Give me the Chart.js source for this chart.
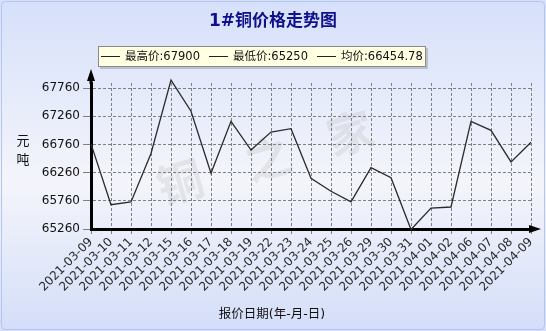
<!DOCTYPE html>
<html>
<head>
<meta charset="utf-8">
<script src="https://cdn.jsdelivr.net/npm/chart.js@4"></script>
<style>
  body { margin: 0; background: #fff; }
  #wrap { width: 546px; height: 331px; }
</style>
</head>
<body>
<div id="wrap"><canvas id="priceChart" width="546" height="331"></canvas></div>
<script>
// data
const dates = [
  "2021-03-09", "2021-03-10", "2021-03-11", "2021-03-12", "2021-03-15",
  "2021-03-16", "2021-03-17", "2021-03-18", "2021-03-19", "2021-03-22",
  "2021-03-23", "2021-03-24", "2021-03-25", "2021-03-26", "2021-03-29",
  "2021-03-30", "2021-03-31", "2021-04-01", "2021-04-02", "2021-04-06",
  "2021-04-07", "2021-04-08", "2021-04-09"
];
const prices = [
  66770, 65690, 65740, 66600, 67900,
  67350, 66250, 67170, 66660, 66980,
  67040, 66160, 65930, 65740, 66350,
  66170, 65250, 65630, 65650, 67170,
  67010, 66450, 66800
];
const yTicks = [65260, 65510, 65760, 66010, 66260, 66510, 66760, 67010, 67260, 67510, 67760];
const yMajorTicks = [65260, 65760, 66260, 66760, 67260, 67760];
const yMin = 65260;
const yMax = 67850;

const maxPrice = "67900";
const minPrice = "65250";
const avgPrice = "66454.78";

const chartTitle = "1#铜价格走势图";
const yTitle = ["元", "吨"];
const xTitle = "报价日期(年-月-日)";
const watermark = "铜之家";

const FONT = "'DejaVu Sans', 'Noto Sans CJK SC', sans-serif";

// background, title, legend box, axis titles and arrows
const decorPlugin = {
  id: "decor",
  beforeDraw(chart) {
    const ctx = chart.ctx;
    const w = chart.width, h = chart.height;
    ctx.save();
    const g = ctx.createLinearGradient(0, 0, 0, h);
    g.addColorStop(0, "#d6e0fb");
    g.addColorStop(0.55, "#f4f5fb");
    g.addColorStop(1, "#d4def9");
    ctx.fillStyle = g;
    ctx.fillRect(0, 0, w, h);
    ctx.strokeStyle = "#b4c6ef";
    ctx.lineWidth = 1;
    ctx.beginPath();
    ctx.roundRect(1.5, 1.5, w - 3, h - 3, 4);
    ctx.stroke();

    // watermark
    ctx.fillStyle = "rgba(185,185,185,0.28)";
    ctx.font = "bold 46px 'Noto Sans CJK SC', sans-serif";
    ctx.textAlign = "center";
    ctx.textBaseline = "middle";
    const marks = [[180, 182], [268, 158], [350, 133]];
    [...watermark].forEach((ch, i) => {
      ctx.save();
      ctx.translate(marks[i][0], marks[i][1]);
      ctx.rotate(-0.28);
      ctx.fillText(ch, 0, 0);
      ctx.restore();
    });
    ctx.restore();
  },
  afterDraw(chart) {
    const ctx = chart.ctx;
    const area = chart.chartArea;
    ctx.save();

    // title
    ctx.fillStyle = "#10108a";
    ctx.font = "bold 17px " + FONT;
    ctx.textAlign = "center";
    ctx.textBaseline = "middle";
    ctx.fillText(chartTitle, 273, 22);

    // legend box
    ctx.fillStyle = "rgba(120,120,120,0.35)";
    ctx.fillRect(100, 48, 328, 21);
    ctx.fillStyle = "#ffffe1";
    ctx.fillRect(98, 46, 328, 21);
    ctx.strokeStyle = "#8a8a8a";
    ctx.lineWidth = 1;
    ctx.strokeRect(98.5, 46.5, 327, 20);

    ctx.font = "11.5px " + FONT;
    ctx.textAlign = "left";
    ctx.fillStyle = "#111";
    ctx.strokeStyle = "#222";
    const items = [
      [101, "最高价:" + maxPrice],
      [209, "最低价:" + minPrice],
      [317, "均价:" + avgPrice]
    ];
    items.forEach(([x, txt]) => {
      ctx.beginPath();
      ctx.moveTo(x, 56.5);
      ctx.lineTo(x + 19, 56.5);
      ctx.stroke();
      ctx.fillText(txt, x + 24, 57);
    });

    // axis titles
    ctx.font = "13px " + FONT;
    ctx.textAlign = "center";
    ctx.fillText(yTitle[0], 23, 142);
    ctx.fillText(yTitle[1], 23, 161);
    ctx.font = "12.5px " + FONT;
    ctx.fillText(xTitle, 272, 315);

    // axis arrows
    const x0 = area.left, yb = area.bottom;
    ctx.strokeStyle = "#000";
    ctx.lineWidth = 3;
    ctx.beginPath();
    ctx.moveTo(x0, area.top + 1);
    ctx.lineTo(x0, 76);
    ctx.moveTo(area.right - 1, yb);
    ctx.lineTo(534, yb);
    ctx.stroke();
    ctx.fillStyle = "#000";
    ctx.beginPath();
    ctx.moveTo(x0, 69);
    ctx.lineTo(x0 - 4, 81);
    ctx.lineTo(x0 + 4, 81);
    ctx.closePath();
    ctx.fill();
    ctx.beginPath();
    ctx.moveTo(541, yb);
    ctx.lineTo(529, yb - 4);
    ctx.lineTo(529, yb + 4);
    ctx.closePath();
    ctx.fill();
    ctx.restore();
  }
};

const isMajor = (v) => yMajorTicks.includes(v);

new Chart(document.getElementById("priceChart").getContext("2d"), {
  type: "line",
  data: {
    labels: dates,
    datasets: [{
      data: prices,
      borderColor: "#2a2a2a",
      borderWidth: 1.3,
      pointRadius: 0,
      tension: 0,
      fill: false,
      clip: 6
    }]
  },
  options: {
    responsive: false,
    animation: false,
    events: [],
    layout: { padding: { left: 0, top: 83, right: 15, bottom: 0 } },
    plugins: {
      legend: { display: false },
      title: { display: false },
      tooltip: { enabled: false }
    },
    scales: {
      x: {
        offset: false,
        afterFit(scale) { scale.height = 102; },
        grid: {
          color: "#808080",
          lineWidth: 1,
          tickLength: 5,
          tickColor: "#808080"
        },
        border: { display: true, color: "#000", width: 3, dash: [3, 2] },
        ticks: {
          autoSkip: false,
          maxRotation: 45,
          minRotation: 45,
          padding: 1,
          color: "#2a2a2a",
          font: { family: FONT, size: 12 }
        }
      },
      y: {
        min: yMin,
        max: yMax,
        afterFit(scale) { scale.width = 91; },
        afterBuildTicks(scale) {
          scale.ticks = yTicks.map((v) => ({ value: v }));
        },
        grid: {
          color: (c) => (c.tick && isMajor(c.tick.value) ? "#808080" : "rgba(0,0,0,0)"),
          lineWidth: 1,
          tickLength: 8,
          tickColor: "#808080"
        },
        border: { display: true, color: "#000", width: 3, dash: [3, 2] },
        ticks: {
          padding: 3,
          color: "#111",
          font: { family: FONT, size: 12 },
          callback: (v) => (isMajor(v) ? String(v) : "")
        }
      }
    }
  },
  plugins: [decorPlugin]
});
</script>
</body>
</html>
